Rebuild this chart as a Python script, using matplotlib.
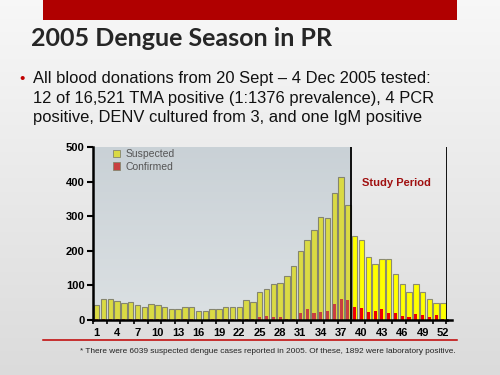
import matplotlib
matplotlib.use("Agg")
import matplotlib.pyplot as plt
import numpy as np
from matplotlib.patches import Patch, Rectangle
from matplotlib.lines import Line2D

# weekly dengue cases, Puerto Rico 2005
weeks = list(range(1, 53))
suspected = [43, 62, 62, 54, 49, 52, 42, 37, 47, 42, 39, 33, 31, 38, 37, 25, 25, 31, 31,
             37, 37, 37, 58, 53, 80, 91, 103, 108, 128, 155, 198, 230, 259, 297, 294, 366, 412, 331,
             244, 231, 181, 163, 175, 175, 132, 103, 81, 103, 81, 60, 49, 49]
confirmed = [2, 4, 3, 2, 2, 3, 3, 2, 3, 2, 2, 1, 2, 2, 3, 1, 1, 2, 2,
             3, 2, 3, 2, 4, 8, 12, 10, 10, 4, 2, 21, 32, 21, 24, 27, 46, 61, 58,
             38, 34, 23, 27, 31, 21, 21, 13, 9, 17, 15, 9, 15, 3]
tick_weeks = list(range(1, 53, 3))
y_ticks = [0, 100, 200, 300, 400, 500]
study_start = 38.5

title = "2005 Dengue Season in PR"
bullet_lines = ["All blood donations from 20 Sept \u2013 4 Dec 2005 tested:",
                "12 of 16,521 TMA positive (1:1376 prevalence), 4 PCR",
                "positive, DENV cultured from 3, and one IgM positive"]
footnote = "* There were 6039 suspected dengue cases reported in 2005. Of these, 1892 were laboratory positive."

W, H = 500, 375
def px(x, y):
    return x / W, 1 - y / H

fig = plt.figure(figsize=(5, 3.75), dpi=100)

# slide background
bg = fig.add_axes([0, 0, 1, 1], zorder=-5)
grad = np.linspace(0.97, 0.86, 200).reshape(-1, 1)
bg.imshow(np.dstack([grad, grad, grad]), aspect="auto", extent=[0, 1, 0, 1])
bg.set_xlim(0, 1); bg.set_ylim(0, 1)
bg.axis("off")
bg.add_patch(Rectangle(px(43, 20), 414 / W, 20 / H, color="#b00000", lw=0))
bg.add_line(Line2D([43 / W, 457 / W], [1 - 339.5 / H] * 2, color="#c00000", lw=1.1))

fig.text(*px(31, 46.5), title, fontsize=18, fontweight="bold", family="Lato",
         color="#262626", va="baseline")
fig.text(*px(19, 82.5), "\u2022", fontsize=11, color="#c00000", va="baseline",
         family="Liberation Sans")
for i, line in enumerate(bullet_lines):
    fig.text(*px(33, 82.7 + i * 19.8), line, fontsize=11.9, family="Liberation Sans",
             color="#111111", va="baseline")
fig.text(*px(80, 353), footnote, fontsize=5.95, family="Liberation Sans",
         color="#222222", va="baseline")

# chart
ax = fig.add_axes([93 / W, 1 - 320 / H, 353.7 / W, 173 / H])
ax.set_facecolor("none")
xmin, xmax = 0.45, 52.55
ax.set_xlim(xmin, xmax)
ax.set_ylim(0, 500)

g = np.linspace(0.0, 1.0, 100).reshape(-1, 1)
top = np.array([0.79, 0.82, 0.84]); bot = np.array([0.86, 0.88, 0.89])
img = top * (1 - g[..., None]) + bot * g[..., None]
ax.imshow(img, aspect="auto", extent=[xmin, study_start, 0, 500], zorder=0)

wk = np.array(weeks)
s = np.array(suspected); c = np.array(confirmed)
pre = wk < study_start
ax.bar(wk[pre], s[pre], width=0.8, color="#dada44", edgecolor="#85856e", lw=0.8, zorder=2)
ax.bar(wk[~pre], s[~pre], width=0.8, color="#ffff00", edgecolor="#8c8c70", lw=0.8, zorder=2)
ax.bar(wk[pre], c[pre], width=0.45, color="#c84040", edgecolor="none", zorder=3)
ax.bar(wk[~pre], c[~pre], width=0.45, color="#ee0000", edgecolor="none", zorder=3)

ax.axvline(study_start, color="black", lw=1.3, zorder=4)
ax.axvline(xmax - 0.02, color="black", lw=1.3, zorder=4)
ax.plot([xmax, 53.4], [0, 0], color="black", lw=1.8, clip_on=False, zorder=4)

for side in ["top", "right"]:
    ax.spines[side].set_visible(False)
for side in ["left", "bottom"]:
    ax.spines[side].set_linewidth(1.8)
    ax.spines[side].set_zorder(5)

ax.set_yticks(y_ticks)
ax.set_yticklabels([str(v) for v in y_ticks], fontsize=8, fontweight="bold",
                   family="Liberation Sans")
ax.tick_params(axis="y", length=4, width=1.5, pad=2)
ax.set_xticks(tick_weeks)
ax.set_xticklabels([str(v) for v in tick_weeks], fontsize=8, fontweight="bold",
                   family="Liberation Sans")
ax.tick_params(axis="x", which="major", length=0, pad=6)
ax.set_xticks(np.arange(0.5, 53, 2), minor=True)
ax.tick_params(axis="x", which="minor", length=3, width=1.2)

ax.text(45.2, 395, "Study Period", color="#a01010", fontsize=8, fontweight="bold",
        family="Liberation Sans", ha="center", va="center")

handles = [Patch(facecolor="#dada44", edgecolor="#85856e", lw=0.6, label="Suspected"),
           Patch(facecolor="#c84040", edgecolor="#85856e", lw=0.6, label="Confirmed")]
leg = ax.legend(handles=handles, loc="upper left", bbox_to_anchor=(0.03, 1.04),
                frameon=False, handlelength=0.7, handleheight=0.7, handletextpad=0.5,
                labelspacing=0.2, prop={"family": "Liberation Sans", "size": 7.5})
for t in leg.get_texts():
    t.set_color("#555555")

fig.savefig("out.png", dpi=100)
